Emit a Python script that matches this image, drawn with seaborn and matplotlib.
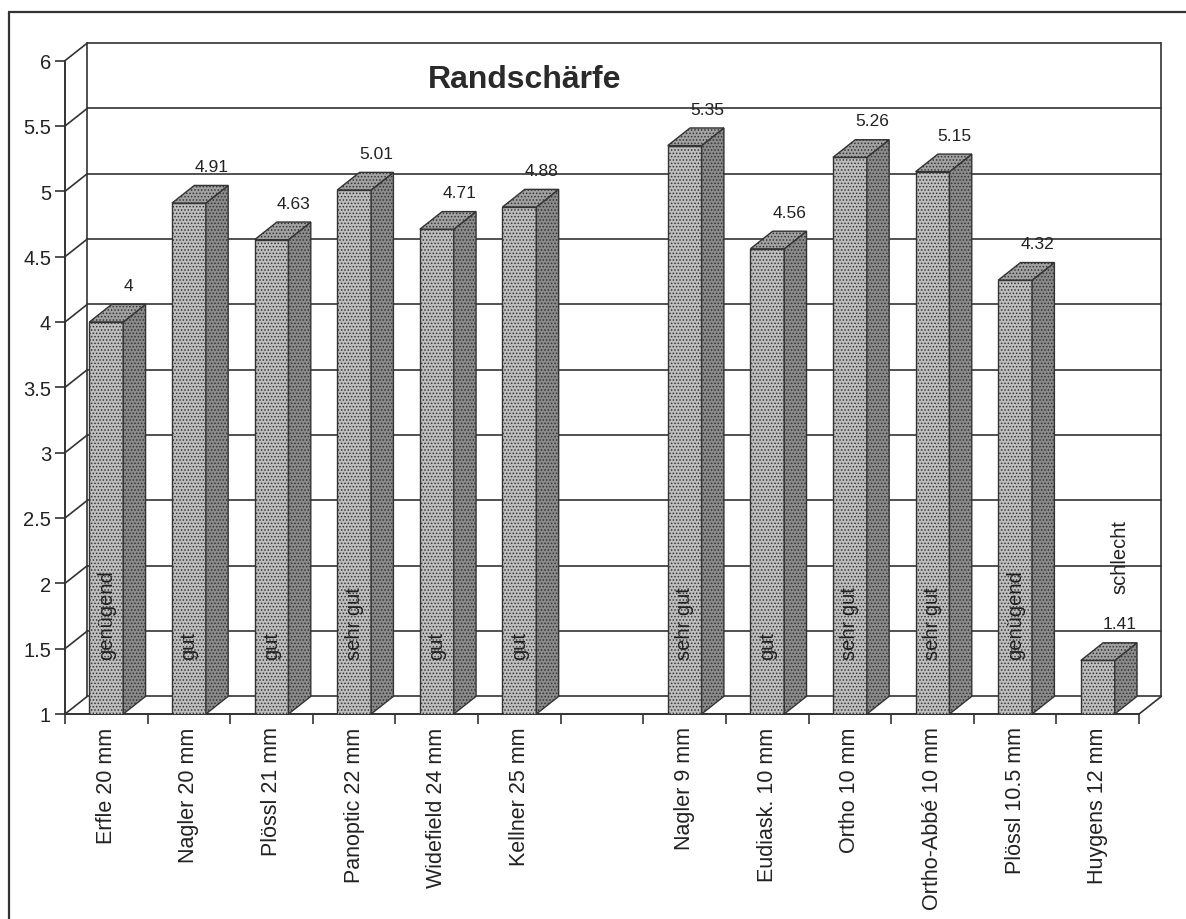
import numpy as np
import pandas as pd
import matplotlib
matplotlib.use("Agg")
import matplotlib.pyplot as plt
from matplotlib.patches import Polygon
from matplotlib.lines import Line2D
import seaborn as sns

# ---- data ----
eyepieces = ["Erfle 20 mm", "Nagler 20 mm", "Plössl 21 mm", "Panoptic 22 mm",
             "Widefield 24 mm", "Kellner 25 mm",
             "Nagler 9 mm", "Eudiask. 10 mm", "Ortho 10 mm", "Ortho-Abbé 10 mm",
             "Plössl 10.5 mm", "Huygens 12 mm"]
scores = [4.0, 4.91, 4.63, 5.01, 4.71, 4.88,
          5.35, 4.56, 5.26, 5.15, 4.32, 1.41]
ratings = ["genügend", "gut", "gut", "sehr gut", "gut", "gut",
           "sehr gut", "gut", "sehr gut", "sehr gut", "genügend", "schlecht"]
# slot order (one empty slot between the two groups)
slot_order = eyepieces[:6] + [" "] + eyepieces[6:]
yticks = [1, 1.5, 2, 2.5, 3, 3.5, 4, 4.5, 5, 5.5, 6]
title = "Randschärfe"

# ---- style ----
sns.set_style("white")
plt.rcParams["font.family"] = ["Liberation Sans", "DejaVu Sans"]
plt.rcParams["hatch.linewidth"] = 0.7
TXT = "#222222"
LINE = "#333333"
FRONT = "#bebebe"
SIDE = "#8a8a8a"
TOP = "#a2a2a2"
DX, DY = 0.27, 0.135   # depth offset in (category, value) units
W = 0.41

df = pd.DataFrame({"Okular": eyepieces, "Wert": scores, "Urteil": ratings})

fig = plt.figure(figsize=(11.86, 9.2), dpi=100)
ax = fig.add_axes([65 / 1186, (920 - 715) / 920, (1168 - 65) / 1186, (715 - 29) / 920])

sns.barplot(data=df, x="Okular", y="Wert", order=slot_order, width=W,
            color=FRONT, saturation=1, edgecolor=LINE, linewidth=1.0,
            hatch=".....", ax=ax, zorder=3)

ax.set_xlim(-0.5, 12.85)
ax.set_ylim(1, 6.25)
ax.set_xlabel("")
ax.set_ylabel("")

# ---- walls / grid ----
nslots = len(slot_order)
x0, x1 = -0.5, nslots - 0.5
for y in yticks:
    ax.add_line(Line2D([x0 + DX, x1 + DX], [y + DY, y + DY], color=LINE, lw=1.2, zorder=1, clip_on=False))
    ax.add_line(Line2D([x0, x0 + DX], [y, y + DY], color=LINE, lw=1.2, zorder=1, clip_on=False))
ax.add_line(Line2D([x0 + DX, x0 + DX], [1 + DY, 6 + DY], color=LINE, lw=1.2, zorder=1, clip_on=False))
ax.add_line(Line2D([x1 + DX, x1 + DX], [1 + DY, 6 + DY], color=LINE, lw=1.2, zorder=1, clip_on=False))
ax.add_line(Line2D([x1, x1 + DX], [1, 1 + DY], color=LINE, lw=1.2, zorder=1, clip_on=False))

# ---- 3D faces + labels from the seaborn bars ----
bars = [p for p in ax.patches if np.isfinite(p.get_height()) and p.get_height() > 0]
for p, r in zip(bars, ratings):
    xl = p.get_x()
    w = p.get_width()
    v = p.get_height()
    xr = xl + w
    xc = xl + w / 2
    side = Polygon([(xr, 1), (xr + DX, 1 + DY), (xr + DX, v + DY), (xr, v)], closed=True,
                   facecolor=SIDE, edgecolor=LINE, lw=1.0, hatch=".....", zorder=3)
    top = Polygon([(xl, v), (xr, v), (xr + DX, v + DY), (xl + DX, v + DY)], closed=True,
                  facecolor=TOP, edgecolor=LINE, lw=1.0, hatch=".....", zorder=3)
    ax.add_patch(side)
    ax.add_patch(top)
    ax.text(xc + DX, v + DY + 0.145, f"{v:g}", ha="center", va="center",
            fontsize=12.5, color=TXT, zorder=5)
    if v - 1 > 1.5:
        ax.text(xc, 1.42, r, rotation=90, ha="center", va="bottom",
                fontsize=14.5, color=TXT, zorder=5)
    else:
        ax.text(xc + DX, v + DY + 0.38, r, rotation=90, ha="center", va="bottom",
                fontsize=14.5, color=TXT, zorder=5)

# ---- axes ----
for s in ["top", "right"]:
    ax.spines[s].set_visible(False)
ax.spines["left"].set_bounds(1, 6)
ax.spines["bottom"].set_bounds(x0, x1)
for s in ["left", "bottom"]:
    ax.spines[s].set_color(LINE)
    ax.spines[s].set_linewidth(1.4)
ax.set_yticks(yticks)
ax.set_yticklabels([f"{t:g}" for t in yticks])
ax.tick_params(axis="y", left=True, direction="out", length=7, width=1.2, color=LINE,
               labelsize=14.5, labelcolor=TXT, pad=3)
ax.set_xticks(range(nslots))
ax.set_xticklabels(slot_order, rotation=90, va="top", ha="center")
ax.tick_params(axis="x", which="major", bottom=True, length=0, labelsize=15.5,
               labelcolor=TXT, pad=9)
ax.set_xticks(np.arange(x0, x1 + 0.01, 1.0), minor=True)
ax.tick_params(axis="x", which="minor", bottom=True, direction="out", length=7,
               width=1.2, color=LINE)
ax.grid(False)

# ---- title & frame ----
fig.text(525 / 1186, 1 - 80 / 920, title, ha="center", va="center",
         fontsize=23, fontweight="bold", color="#2a2a2a")
fig.add_artist(Line2D([9 / 1186, 1.0], [1 - 13 / 920, 1 - 13 / 920],
                      transform=fig.transFigure, color=LINE, lw=1.6))
fig.add_artist(Line2D([9 / 1186, 9 / 1186], [0.0, 1 - 13 / 920],
                      transform=fig.transFigure, color=LINE, lw=1.6))

fig.savefig("out.png", dpi=100)
